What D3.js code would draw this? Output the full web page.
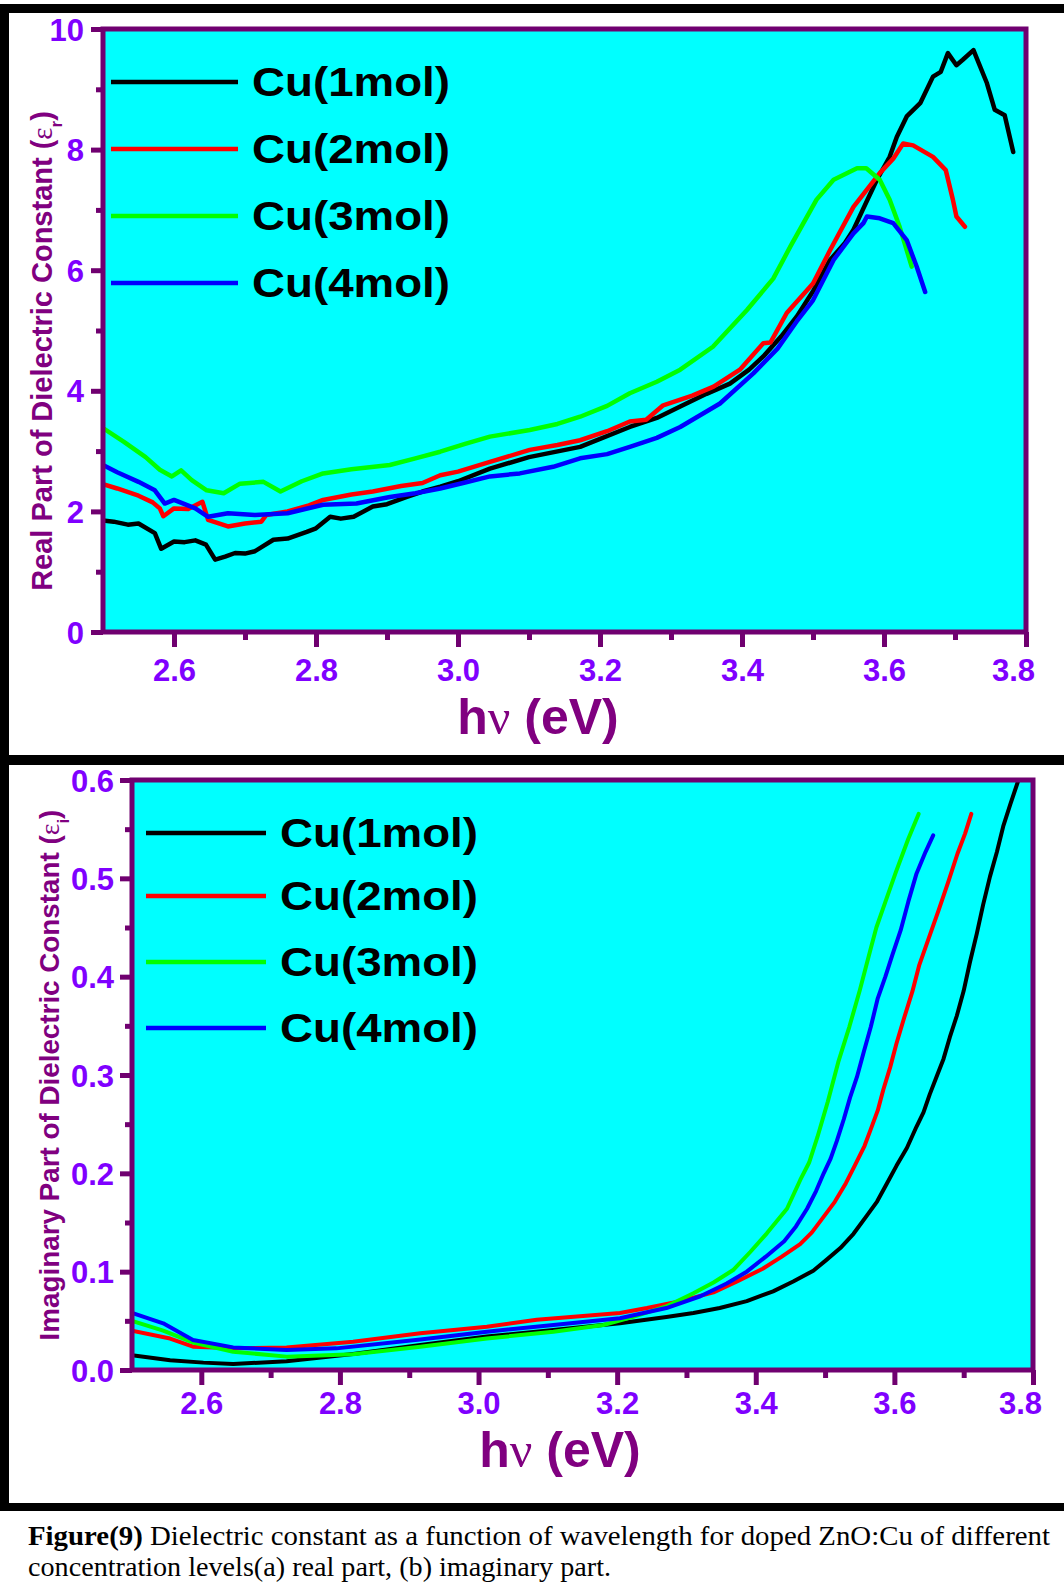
<!DOCTYPE html>
<html>
<head>
<meta charset="utf-8">
<script src="https://cdn.jsdelivr.net/npm/d3@7"></script>
<style>
  body { margin: 0; background: #fff; }
  svg { display: block; }
  .tick text { font-family: "Liberation Sans", Arial, sans-serif; font-weight: bold; }
</style>
</head>
<body>
<script>
// ---- data ----
var seriesNames = ["Cu(1mol)", "Cu(2mol)", "Cu(3mol)", "Cu(4mol)"];

var energyTicks = [2.6, 2.8, 3.0, 3.2, 3.4, 3.6, 3.8];
var energyMinor = [2.7, 2.9, 3.1, 3.3, 3.5, 3.7];
var realTicks = [0, 2, 4, 6, 8, 10];
var realMinor = [1, 3, 5, 7, 9];
var imagTicks = [0.0, 0.1, 0.2, 0.3, 0.4, 0.5, 0.6];
var imagMinor = [0.05, 0.15, 0.25, 0.35, 0.45, 0.55];

// (a) real part, [hv, eps_r]
var realCu1 = [[2.50,1.85],[2.515,1.83],[2.535,1.78],[2.55,1.80],[2.573,1.64],[2.582,1.38],[2.60,1.50],[2.615,1.49],
  [2.63,1.52],[2.645,1.45],[2.658,1.20],[2.672,1.25],[2.686,1.31],[2.70,1.30],[2.714,1.34],[2.74,1.53],[2.76,1.55],
  [2.787,1.66],[2.80,1.72],[2.82,1.91],[2.835,1.88],[2.853,1.91],[2.88,2.08],[2.90,2.12],[2.928,2.24],[2.95,2.33],
  [2.975,2.41],[3.00,2.50],[3.045,2.71],[3.10,2.90],[3.172,3.07],[3.242,3.40],[3.28,3.55],[3.313,3.74],[3.35,3.95],
  [3.383,4.12],[3.41,4.35],[3.43,4.57],[3.455,4.90],[3.477,5.23],[3.50,5.65],[3.524,6.17],[3.545,6.45],[3.557,6.67],
  [3.57,7.00],[3.59,7.50],[3.608,7.88],[3.618,8.21],[3.632,8.55],[3.651,8.77],[3.669,9.21],[3.68,9.29],[3.69,9.60],
  [3.702,9.40],[3.711,9.49],[3.726,9.65],[3.745,9.10],[3.756,8.66],[3.77,8.57],[3.782,7.96]];
var realCu2 = [[2.50,2.45],[2.52,2.38],[2.55,2.26],[2.57,2.15],[2.58,2.05],[2.585,1.92],[2.60,2.05],[2.62,2.04],
  [2.64,2.16],[2.648,1.86],[2.676,1.75],[2.70,1.80],[2.723,1.83],[2.73,1.94],[2.76,2.00],[2.79,2.10],[2.81,2.19],
  [2.85,2.28],[2.88,2.33],[2.92,2.42],[2.95,2.47],[2.975,2.60],[3.00,2.66],[3.045,2.82],[3.101,3.02],[3.14,3.10],
  [3.172,3.18],[3.21,3.33],[3.242,3.49],[3.265,3.52],[3.289,3.76],[3.33,3.92],[3.36,4.07],[3.397,4.35],[3.43,4.79],
  [3.44,4.80],[3.463,5.29],[3.50,5.78],[3.524,6.33],[3.557,7.05],[3.594,7.61],[3.613,7.85],[3.627,8.10],[3.641,8.07],
  [3.669,7.88],[3.687,7.66],[3.697,7.17],[3.702,6.89],[3.714,6.72]];
var realCu3 = [[2.50,3.38],[2.53,3.15],[2.56,2.90],[2.58,2.69],[2.597,2.58],[2.61,2.68],[2.625,2.52],[2.646,2.35],
  [2.67,2.30],[2.693,2.46],[2.726,2.49],[2.75,2.33],[2.78,2.50],[2.81,2.63],[2.85,2.70],[2.904,2.77],[2.94,2.88],
  [2.975,2.99],[3.01,3.12],[3.045,3.24],[3.101,3.35],[3.14,3.45],[3.172,3.57],[3.21,3.75],[3.242,3.96],[3.28,4.15],
  [3.313,4.35],[3.359,4.73],[3.392,5.15],[3.407,5.34],[3.444,5.86],[3.468,6.39],[3.505,7.17],[3.529,7.50],[3.562,7.69],
  [3.575,7.69],[3.594,7.50],[3.608,7.17],[3.622,6.72],[3.639,6.06]];
var realCu4 = [[2.50,2.77],[2.52,2.65],[2.55,2.49],[2.573,2.35],[2.587,2.13],[2.60,2.19],[2.63,2.05],[2.648,1.91],
  [2.676,1.97],[2.714,1.94],[2.76,1.97],[2.81,2.11],[2.857,2.13],[2.904,2.24],[2.94,2.30],[2.975,2.38],[3.01,2.48],
  [3.045,2.58],[3.087,2.63],[3.134,2.74],[3.172,2.88],[3.21,2.95],[3.242,3.07],[3.28,3.22],[3.313,3.40],[3.369,3.79],
  [3.416,4.29],[3.45,4.70],[3.477,5.15],[3.50,5.50],[3.529,6.17],[3.557,6.61],[3.571,6.78],[3.576,6.89],[3.594,6.86],
  [3.613,6.78],[3.632,6.50],[3.646,6.06],[3.658,5.64]];

// (b) imaginary part, [hv, eps_i]
var imagCu1 = [[2.50,0.015],[2.555,0.010],[2.603,0.0075],[2.646,0.006],[2.723,0.009],[2.819,0.0163],[2.916,0.0254],
  [3.012,0.034],[3.108,0.0407],[3.204,0.0475],[3.271,0.054],[3.31,0.058],[3.348,0.063],[3.387,0.070],[3.425,0.080],
  [3.454,0.090],[3.483,0.101],[3.502,0.112],[3.522,0.124],[3.541,0.1385],[3.560,0.1567],[3.575,0.1713],[3.589,0.1894],
  [3.603,0.2076],[3.618,0.2258],[3.632,0.2476],[3.642,0.262],[3.651,0.2803],[3.661,0.2985],[3.671,0.3166],
  [3.680,0.3384],[3.690,0.360],[3.700,0.3856],[3.709,0.4147],[3.719,0.444],[3.728,0.473],[3.738,0.502],
  [3.748,0.527],[3.757,0.5528],[3.767,0.5746],[3.779,0.600]];
var imagCu2 = [[2.50,0.040],[2.555,0.032],[2.588,0.0237],[2.651,0.022],[2.723,0.023],[2.819,0.0288],[2.916,0.0373],
  [3.012,0.044],[3.084,0.051],[3.204,0.058],[3.243,0.063],[3.291,0.070],[3.339,0.079],[3.373,0.090],[3.410,0.103],
  [3.437,0.115],[3.464,0.128],[3.481,0.140],[3.497,0.155],[3.514,0.171],[3.530,0.190],[3.543,0.208],[3.557,0.228],
  [3.566,0.245],[3.576,0.264],[3.584,0.285],[3.594,0.308],[3.603,0.332],[3.614,0.358],[3.626,0.385],[3.636,0.412],
  [3.650,0.440],[3.664,0.468],[3.678,0.497],[3.691,0.525],[3.702,0.5455],[3.711,0.5655]];
var imagCu3 = [[2.50,0.050],[2.545,0.040],[2.588,0.028],[2.646,0.0186],[2.723,0.0136],[2.819,0.016],[2.916,0.0237],
  [3.012,0.032],[3.108,0.039],[3.18,0.0458],[3.223,0.054],[3.272,0.065],[3.31,0.078],[3.339,0.089],[3.368,0.102],
  [3.392,0.120],[3.416,0.139],[3.445,0.164],[3.464,0.193],[3.477,0.211],[3.489,0.237],[3.504,0.273],[3.519,0.313],
  [3.535,0.349],[3.550,0.386],[3.566,0.429],[3.574,0.450],[3.587,0.476],[3.602,0.506],[3.620,0.540],[3.635,0.5655]];
var imagCu4 = [[2.50,0.058],[2.545,0.0475],[2.588,0.0305],[2.646,0.023],[2.723,0.0203],[2.795,0.022],[2.916,0.031],
  [3.012,0.039],[3.108,0.0458],[3.204,0.0526],[3.271,0.063],[3.320,0.075],[3.358,0.088],[3.387,0.100],[3.414,0.115],
  [3.441,0.131],[3.458,0.146],[3.474,0.164],[3.487,0.182],[3.498,0.200],[3.508,0.215],[3.517,0.233],[3.527,0.255],
  [3.536,0.277],[3.546,0.298],[3.556,0.324],[3.566,0.349],[3.576,0.378],[3.587,0.400],[3.597,0.422],[3.609,0.447],
  [3.620,0.476],[3.632,0.505],[3.645,0.527],[3.656,0.5437]];

// ---- styling ----
var lineColors = ["#000000", "#ff0000", "#00ff00", "#0000ff"];
var axisPurple = "#700070";
var tickViolet = "#7f00ff";
var titlePurple = "#800080";
var sans = '"Liberation Sans", Arial, sans-serif';
var serif = '"Liberation Serif", "Times New Roman", serif';

var W = 1064, H = 1583;
var svg = d3.select("body").append("svg").attr("width", W).attr("height", H);

svg.append("rect").attr("width", W).attr("height", H).attr("fill", "#fff");

// black figure frame (right side is cut off in the source)
var frame = svg.append("g").attr("fill", "#000");
frame.append("rect").attr("x", 0).attr("y", 4).attr("width", W).attr("height", 9);
frame.append("rect").attr("x", 0).attr("y", 4).attr("width", 9).attr("height", 1507);
frame.append("rect").attr("x", 0).attr("y", 755).attr("width", W).attr("height", 10);
frame.append("rect").attr("x", 0).attr("y", 1503).attr("width", W).attr("height", 8);

var panels = [
  {
    id: "a", left: 103, right: 1026, top: 29, bottom: 632,
    yDomain: [0, 10], yTicks: realTicks, yMinor: realMinor, yFormat: d3.format("d"),
    series: [realCu1, realCu2, realCu3, realCu4], lineWidth: 4.5,
    yLabelX: -19, xLabelY: 49, xTitleX: 538, xTitleY: 734,
    yTitleX: 52, yTitleY: 351, yTitleSize: 29,
    yTitle: "Real Part of Dielectric Constant (", ySub: "r",
    legLine: [111, 238], legY: [82, 149, 216, 283], legTextX: 252
  },
  {
    id: "b", left: 132, right: 1033, top: 780, bottom: 1370,
    yDomain: [0, 0.6], yTicks: imagTicks, yMinor: imagMinor, yFormat: d3.format(".1f"),
    series: [imagCu1, imagCu2, imagCu3, imagCu4], lineWidth: 4,
    yLabelX: -18, xLabelY: 44, xTitleX: 560, xTitleY: 1467,
    yTitleX: 59, yTitleY: 1075, yTitleSize: 27.8,
    yTitle: "Imaginary Part of Dielectric Constant (", ySub: "i",
    legLine: [146, 266], legY: [833, 896, 962, 1028], legTextX: 280
  }
];

panels.forEach(function (p) {
  var x = d3.scaleLinear().domain([2.5, 3.8]).range([p.left, p.right]);
  var y = d3.scaleLinear().domain(p.yDomain).range([p.bottom, p.top]);

  svg.append("rect")
    .attr("x", p.left).attr("y", p.top)
    .attr("width", p.right - p.left).attr("height", p.bottom - p.top)
    .attr("fill", "#00ffff");

  svg.append("clipPath").attr("id", "clip-" + p.id)
    .append("rect")
    .attr("x", p.left).attr("y", p.top)
    .attr("width", p.right - p.left).attr("height", p.bottom - p.top);

  var line = d3.line().x(function (d) { return x(d[0]); }).y(function (d) { return y(d[1]); });

  svg.append("g").attr("clip-path", "url(#clip-" + p.id + ")")
    .selectAll("path")
    .data(p.series)
    .enter().append("path")
    .attr("d", line)
    .attr("fill", "none")
    .attr("stroke", function (d, i) { return lineColors[i]; })
    .attr("stroke-width", p.lineWidth)
    .attr("stroke-linejoin", "round")
    .attr("stroke-linecap", "round");

  // plot frame
  svg.append("rect")
    .attr("x", p.left).attr("y", p.top)
    .attr("width", p.right - p.left).attr("height", p.bottom - p.top)
    .attr("fill", "none").attr("stroke", axisPurple).attr("stroke-width", 5);

  // x axis, major + minor
  var xAxis = svg.append("g").attr("transform", "translate(0," + p.bottom + ")")
    .call(d3.axisBottom(x).tickValues(energyTicks).tickSize(15).tickSizeOuter(0).tickFormat(d3.format(".1f")));
  svg.append("g").attr("transform", "translate(0," + p.bottom + ")")
    .call(d3.axisBottom(x).tickValues(energyMinor).tickSize(8).tickSizeOuter(0).tickFormat(""));

  // y axis, major + minor
  var yAxis = svg.append("g").attr("transform", "translate(" + p.left + ",0)")
    .call(d3.axisLeft(y).tickValues(p.yTicks).tickSize(12).tickSizeOuter(0).tickFormat(p.yFormat));
  svg.append("g").attr("transform", "translate(" + p.left + ",0)")
    .call(d3.axisLeft(y).tickValues(p.yMinor).tickSize(7).tickSizeOuter(0).tickFormat(""));

  svg.selectAll(".domain").remove();
  svg.selectAll(".tick line").attr("stroke", axisPurple).attr("stroke-width", 5);

  // the last label sits a little inside the right edge in the source
  xAxis.selectAll("text")
    .attr("y", p.xLabelY).attr("dy", 0)
    .attr("dx", function (d) { return d === 3.8 ? -13 : 0; })
    .attr("fill", tickViolet).style("font-size", "31px");
  yAxis.selectAll("text")
    .attr("x", p.yLabelX).attr("dy", "0.36em")
    .attr("fill", tickViolet).style("font-size", "31px");

  // axis titles
  var xt = svg.append("text")
    .attr("x", p.xTitleX).attr("y", p.xTitleY)
    .attr("text-anchor", "middle")
    .attr("font-family", sans).attr("font-weight", "bold").attr("font-size", 50)
    .attr("fill", titlePurple);
  xt.append("tspan").text("h");
  xt.append("tspan").attr("font-family", serif).attr("font-weight", "normal").text("\u03bd");
  xt.append("tspan").text(" (eV)");

  var yt = svg.append("text")
    .attr("transform", "translate(" + p.yTitleX + "," + p.yTitleY + ") rotate(-90)")
    .attr("text-anchor", "middle")
    .attr("font-family", sans).attr("font-weight", "bold").attr("font-size", p.yTitleSize)
    .attr("fill", titlePurple);
  yt.append("tspan").text(p.yTitle);
  yt.append("tspan").attr("font-family", serif).attr("font-weight", "normal").text("\u03b5");
  yt.append("tspan").attr("baseline-shift", "sub").attr("font-size", 17).text(p.ySub);
  yt.append("tspan").text(")");

  // legend
  var leg = svg.append("g").selectAll("g")
    .data(seriesNames)
    .enter().append("g");
  leg.append("line")
    .attr("x1", p.legLine[0]).attr("x2", p.legLine[1])
    .attr("y1", function (d, i) { return p.legY[i]; })
    .attr("y2", function (d, i) { return p.legY[i]; })
    .attr("stroke", function (d, i) { return lineColors[i]; })
    .attr("stroke-width", 4.5);
  leg.append("text")
    .attr("x", p.legTextX)
    .attr("y", function (d, i) { return p.legY[i]; })
    .attr("dy", "0.36em")
    .attr("font-family", sans).attr("font-weight", "bold").attr("font-size", 40)
    .attr("textLength", 198).attr("lengthAdjust", "spacingAndGlyphs")
    .attr("fill", "#000")
    .text(function (d) { return d; });
});

// caption
var cap1 = svg.append("text").attr("x", 28).attr("y", 1545)
  .attr("font-family", serif).attr("font-size", 27).attr("fill", "#000")
  .attr("textLength", 1022).attr("lengthAdjust", "spacingAndGlyphs");
cap1.append("tspan").attr("font-weight", "bold").text("Figure(9)");
cap1.append("tspan").text(" Dielectric constant as a function of wavelength for doped ZnO:Cu of different");
svg.append("text").attr("x", 28).attr("y", 1576)
  .attr("font-family", serif).attr("font-size", 27).attr("fill", "#000")
  .attr("textLength", 583).attr("lengthAdjust", "spacingAndGlyphs")
  .text("concentration levels(a) real part, (b) imaginary part.");
</script>
</body>
</html>
